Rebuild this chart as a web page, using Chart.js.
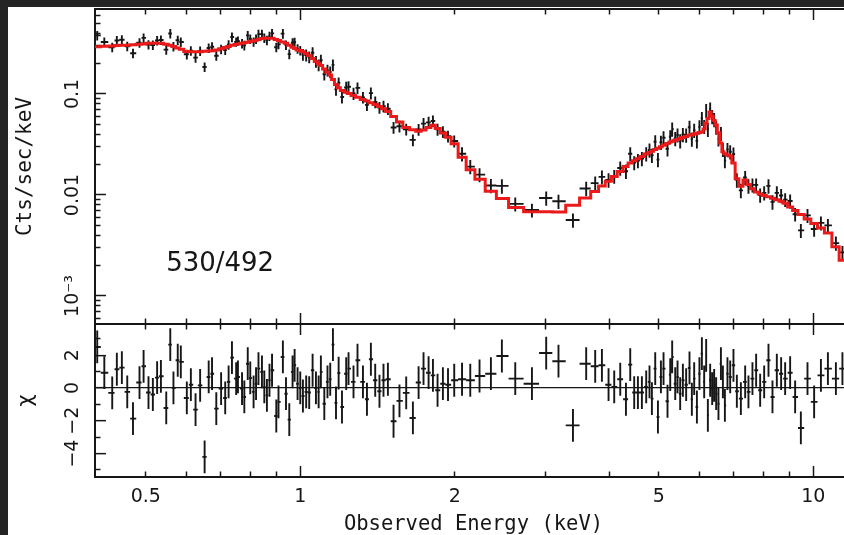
<!DOCTYPE html>
<html><head><meta charset="utf-8">
<script src="https://cdn.jsdelivr.net/npm/chart.js@4.4.0/dist/chart.umd.min.js"></script>
<style>
html,body{margin:0;padding:0;width:844px;height:535px;overflow:hidden;background:#242424;}
#paper{position:absolute;left:8px;top:7px;right:0;bottom:0;background:#fff;}
canvas{position:absolute;left:0;top:0;}
</style></head><body>
<div id="paper"></div>
<canvas id="topc" width="852" height="535" style="width:852px;height:535px"></canvas>
<canvas id="botc" width="852" height="535" style="width:852px;height:535px"></canvas>
<script>
// ---- data ----
const energy = [0.402,0.415,0.430,0.439,0.449,0.460,0.472,0.486,0.495,0.506,
0.516,0.526,0.535,0.548,0.558,0.566,0.577,0.585,0.601,0.612,
0.625,0.638,0.651,0.663,0.673,0.686,0.701,0.714,0.725,0.736,
0.750,0.756,0.770,0.778,0.790,0.799,0.811,0.820,0.829,0.842,
0.851,0.861,0.871,0.881,0.898,0.907,0.925,0.938,0.952,0.966,
0.975,0.988,1.000,1.012,1.027,1.041,1.057,1.073,1.086,1.097,
1.114,1.130,1.144,1.158,1.174,1.188,1.206,1.229,1.242,1.270,
1.293,1.325,1.349,1.373,1.400,1.427,1.453,1.482,1.520,1.561,
1.609,1.658,1.701,1.739,1.779,1.814,1.852,1.897,1.941,1.996,
2.067,2.145,2.236,2.353,2.472,2.625,2.829,3.016,3.187,3.401,
3.609,3.758,3.873,3.990,4.093,4.205,4.314,4.398,4.477,4.552,
4.634,4.725,4.795,4.847,4.920,4.980,5.047,5.107,5.199,5.263,
5.309,5.382,5.438,5.503,5.570,5.653,5.738,5.799,5.860,5.932,
6.000,6.066,6.129,6.184,6.231,6.296,6.353,6.410,6.468,6.535,
6.607,6.666,6.726,6.804,6.888,6.990,7.097,7.226,7.367,7.477,
7.612,7.739,7.880,8.023,8.180,8.328,8.492,8.658,8.815,9.015,
9.219,9.459,9.745,10.04,10.35,10.68,11.07,11.40];

const rate = [0.380,0.327,0.290,0.339,0.344,0.297,0.253,0.322,0.359,0.308,
0.305,0.339,0.342,0.275,0.397,0.295,0.340,0.327,0.247,0.268,
0.229,0.267,0.185,0.285,0.293,0.239,0.278,0.272,0.307,0.366,
0.328,0.334,0.316,0.303,0.380,0.350,0.328,0.350,0.391,0.391,
0.359,0.340,0.374,0.398,0.290,0.310,0.396,0.306,0.248,0.321,
0.325,0.280,0.270,0.246,0.243,0.233,0.256,0.210,0.194,0.216,
0.157,0.172,0.165,0.194,0.111,0.129,0.0934,0.116,0.118,0.101,
0.115,0.0925,0.0780,0.102,0.0833,0.0735,0.0757,0.0715,0.0465,0.0480,
0.0448,0.0351,0.0445,0.0509,0.0524,0.0540,0.0446,0.0423,0.0381,0.0342,
0.0256,0.0191,0.0159,0.0124,0.0123,0.00816,0.00710,0.00934,0.00866,0.00566,
0.0116,0.0131,0.0151,0.0141,0.0153,0.0185,0.0172,0.0256,0.0209,0.0219,
0.0230,0.0256,0.0279,0.0247,0.0336,0.0224,0.0332,0.0369,0.0287,0.0378,
0.0450,0.0362,0.0393,0.0344,0.0397,0.0392,0.0468,0.0357,0.0437,0.0344,
0.0472,0.0573,0.0477,0.0688,0.0446,0.0712,0.0597,0.0558,0.0469,0.0359,
0.0407,0.0283,0.0219,0.0283,0.0268,0.0254,0.0141,0.0111,0.0149,0.0123,
0.0126,0.0126,0.0100,0.0105,0.0123,0.00855,0.0105,0.00987,0.00899,0.00872,
0.00645,0.00446,0.00628,0.00460,0.00529,0.00500,0.00334,0.00270];

const rateErr = [0.041,0.035,0.031,0.037,0.037,0.032,0.027,0.035,0.039,0.033,
0.033,0.037,0.037,0.030,0.043,0.032,0.037,0.035,0.027,0.029,
0.025,0.029,0.020,0.031,0.032,0.026,0.030,0.029,0.033,0.040,
0.035,0.036,0.034,0.033,0.041,0.038,0.035,0.038,0.042,0.042,
0.039,0.037,0.040,0.043,0.031,0.033,0.043,0.033,0.027,0.035,
0.035,0.030,0.029,0.033,0.033,0.031,0.034,0.028,0.026,0.029,
0.021,0.023,0.022,0.026,0.015,0.017,0.013,0.016,0.016,0.014,
0.015,0.012,0.010,0.014,0.011,0.0098,0.010,0.0096,0.0062,0.0064,
0.0060,0.0047,0.0060,0.0068,0.0070,0.0072,0.0060,0.0057,0.0051,0.0046,
0.0041,0.0031,0.0025,0.0020,0.0020,0.0013,0.0011,0.0015,0.0014,0.00091,
0.0019,0.0021,0.0024,0.0023,0.0024,0.0030,0.0028,0.0041,0.0033,0.0035,
0.0037,0.0041,0.0045,0.0040,0.0054,0.0036,0.0053,0.0059,0.0046,0.0060,
0.0072,0.0058,0.0063,0.0055,0.0064,0.0063,0.0075,0.0057,0.0070,0.0055,
0.0076,0.0092,0.0076,0.011,0.0071,0.011,0.0096,0.0089,0.0075,0.0057,
0.0065,0.0045,0.0035,0.0045,0.0043,0.0041,0.0023,0.0018,0.0024,0.0020,
0.0020,0.0020,0.0016,0.0017,0.0020,0.0014,0.0017,0.0016,0.0014,0.0014,
0.0010,0.00071,0.0010,0.00074,0.00085,0.00080,0.00053,0.00043];

const model = [0.294,0.297,0.299,0.302,0.303,0.304,0.307,0.311,0.313,0.317,
0.318,0.318,0.318,0.311,0.303,0.295,0.286,0.278,0.263,0.262,
0.262,0.262,0.265,0.267,0.268,0.272,0.280,0.289,0.295,0.303,
0.309,0.312,0.318,0.321,0.326,0.330,0.336,0.341,0.346,0.354,
0.356,0.356,0.356,0.356,0.346,0.339,0.327,0.317,0.303,0.290,
0.282,0.273,0.270,0.262,0.251,0.241,0.224,0.210,0.200,0.191,
0.177,0.164,0.154,0.139,0.124,0.115,0.108,0.104,0.101,0.0964,
0.0930,0.0884,0.0851,0.0818,0.0785,0.0753,0.0714,0.0669,0.0600,0.0529,
0.0466,0.0442,0.0427,0.0439,0.0467,0.0491,0.0454,0.0410,0.0372,0.0322,
0.0237,0.0178,0.0143,0.0109,0.00921,0.00750,0.00683,0.00682,0.00680,0.00792,
0.00934,0.0108,0.0123,0.0137,0.0152,0.0171,0.0191,0.0207,0.0218,0.0228,
0.0240,0.0254,0.0264,0.0271,0.0282,0.0291,0.0301,0.0310,0.0324,0.0335,
0.0340,0.0348,0.0355,0.0363,0.0370,0.0380,0.0391,0.0395,0.0402,0.0408,
0.0415,0.0421,0.0451,0.0513,0.0572,0.0664,0.0601,0.0545,0.0494,0.0414,
0.0327,0.0268,0.0256,0.0249,0.0243,0.0207,0.0145,0.0122,0.0141,0.0127,
0.0115,0.0107,0.0102,0.00991,0.00958,0.00928,0.00897,0.00866,0.00826,0.00761,
0.00701,0.00641,0.00577,0.00521,0.00472,0.00420,0.00307,0.00226];

const chi = [2.5,0.93,-0.3,1.14,1.24,-0.24,-1.87,0.33,1.32,-0.28,
-0.4,0.63,0.71,-1.22,2.64,0,1.69,1.59,-0.61,0.2,
-1.32,0.16,-4.2,0.67,0.87,-1.26,-0.04,-0.61,0.37,1.85,
0.57,0.67,-0.04,-0.55,1.48,0.61,-0.24,0.26,1.18,0.98,
0.06,-0.45,0.47,1.08,-1.71,-0.85,1.89,-0.35,-1.93,0.98,
1.38,0.26,0,-0.49,-0.24,-0.28,1.08,0,-0.24,0.98,
-0.96,0.37,0.53,2.64,-0.91,0.91,-1.16,0.87,1.18,0.37,
1.69,0.37,-0.69,1.75,0.47,-0.2,0.47,0.53,-2.03,-0.79,
-0.3,-1.83,0.33,1.18,0.93,0.77,-0.14,0.26,0.2,0.47,
0.53,0.47,0.73,0.87,1.95,0.57,0.26,2.13,1.63,-2.28,
1.48,1.32,1.38,0.2,0.06,0.53,-0.69,1.42,-0.28,-0.28,
-0.28,0.06,0.37,-0.65,1.18,-1.77,0.67,1.18,-0.81,0.81,
1.89,0.26,0.67,-0.35,0.47,0.2,1.22,-0.69,0.57,-1.16,
0.87,2.09,0.37,1.99,-1.67,0.47,-0.04,0.16,-0.35,-0.96,
1.48,0.37,-1.06,0.87,0.67,1.38,-0.2,-0.65,0.37,-0.24,
0.57,1.08,-0.14,0.37,1.69,-0.55,1.08,0.87,0.57,0.93,
-0.55,-2.44,0.57,-0.85,0.77,1.18,0.57,1.18];
const chiErr = 1;

// axis ranges and ticks
const xMin = 0.398, xMax = 11.9;
const yMin = 5.28e-4, yMax = 0.694;
const chiMin = -5.43, chiMax = 3.9;
const xLabelTicks = [0.5, 1, 2, 5, 10];
const xMajorTicks = [1, 10];
const xMinorTicks = [0.5, 0.6, 0.7, 0.8, 0.9, 2, 3, 4, 5, 6, 7, 8, 9];
const yLabelTicks = [0.001, 0.01, 0.1];
const yLabelText = ['10\u207B\u00B3', '0.01', '0.1'];
const yMinorTicks = [6e-4, 7e-4, 8e-4, 9e-4,
  2e-3, 3e-3, 4e-3, 5e-3, 6e-3, 7e-3, 8e-3, 9e-3,
  0.02, 0.03, 0.04, 0.05, 0.06, 0.07, 0.08, 0.09,
  0.2, 0.3, 0.4, 0.5, 0.6];
const chiLabelTicks = [-4, -2, 0, 2];
const chiMinorTicks = [-5, -3, -1, 1, 3];
const fitLabel = '530/492';
const fitLabelAt = {x: 0.698, y: 0.00207};
const xTitle = 'Observed Energy (keV)';
const yTitle = 'Cts/sec/keV';
const chiTitle = '\u03C7';

// ---- styling ----
const INK = '#161616';
const RED = '#ea1a1a';
const TICKFONT = {family: 'DejaVu Sans', size: 19};

// bin edges (contiguous bins, geometric midpoints)
const N = energy.length;
const edges = new Array(N + 1);
for (let i = 1; i < N; i++) edges[i] = Math.sqrt(energy[i - 1] * energy[i]);
edges[0] = energy[0] * energy[0] / edges[1];
edges[N] = energy[N - 1] * energy[N - 1] / edges[N - 1];

function crosses(vals, lo, hi) {
  const pts = [];
  for (let i = 0; i < N; i++) {
    pts.push({x: edges[i], y: vals[i]}, {x: edges[i + 1], y: vals[i]}, {x: energy[i], y: null},
             {x: energy[i], y: lo[i]}, {x: energy[i], y: hi[i]}, {x: energy[i], y: null});
  }
  return pts;
}
const topCross = crosses(rate, rate.map((v, i) => v - rateErr[i]), rate.map((v, i) => v + rateErr[i]));
const botCross = crosses(chi, chi.map(v => v - chiErr), chi.map(v => v + chiErr));
const modelStep = model.map((v, i) => ({x: edges[i], y: v}));
modelStep.push({x: edges[N], y: model[N - 1]});

function measureWidest(labels, font) {
  const c = document.createElement('canvas').getContext('2d');
  c.font = font;
  return Math.max(...labels.map(t => c.measureText(t).width));
}
const labelCenterX = 73.5;
const majLen = 11, minLen = 5.5;
const padTopY = 95 + majLen - labelCenterX - measureWidest(yLabelText, '19px "DejaVu Sans"') / 2;
const chiText = v => (v < 0 ? '\u2212' + Math.abs(v) : String(v));
const padChiY = 95 + majLen - labelCenterX - measureWidest(chiLabelTicks.map(chiText), '19px "DejaVu Sans"') / 2;

function noPad(s) { s.paddingTop = 0; s.paddingBottom = 0; s.paddingLeft = 0; s.paddingRight = 0; }
function helper(type, pos, min, max, list, len, weight) {
  const horiz = pos === 'top' || pos === 'bottom';
  return {
    type, position: pos, min, max, weight,
    afterBuildTicks: s => { s.ticks = list.map(v => ({value: v})); },
    afterFit: s => { if (horiz) s.height = 0; else s.width = 0; noPad(s); },
    ticks: {display: false},
    grid: {display: true, drawOnChartArea: false, drawTicks: true, tickLength: -len, tickColor: INK, tickWidth: 1.5},
    border: {display: true, color: INK, width: 2}
  };
}
const commonOpts = {
  responsive: false, animation: false, maintainAspectRatio: false,
  events: [],
  plugins: {legend: {display: false}, tooltip: {enabled: false}}
};

// ---- top panel ----
new Chart(document.getElementById('topc'), {
  type: 'line',
  data: {datasets: [
    {data: modelStep, stepped: true, borderColor: RED, borderWidth: 3, pointRadius: 0, fill: false, order: 0},
    {data: topCross, borderColor: INK, borderWidth: 1.9, pointRadius: 0, spanGaps: false, fill: false, order: 1}
  ]},
  options: Object.assign({}, commonOpts, {
    layout: {padding: {left: 0, top: 9, right: 0, bottom: 535 - 324}},
    scales: {
      x: helper('logarithmic', 'bottom', xMin, xMax, xMinorTicks, minLen, 0),
      xb: helper('logarithmic', 'bottom', xMin, xMax, xMajorTicks, majLen, 1),
      xt: helper('logarithmic', 'top', xMin, xMax, xMinorTicks, minLen, 0),
      xtb: helper('logarithmic', 'top', xMin, xMax, xMajorTicks, majLen, 1),
      y: {
        type: 'logarithmic', position: 'left', min: yMin, max: yMax, weight: 10,
        afterBuildTicks: s => { s.ticks = yLabelTicks.map(v => ({value: v})); },
        afterFit: s => { s.width = 95; noPad(s); },
        ticks: {display: true, autoSkip: false, minRotation: 90, maxRotation: 90, crossAlign: 'center',
                padding: padTopY, color: INK, font: TICKFONT, callback: (v, i) => yLabelText[i]},
        grid: {drawOnChartArea: false, tickLength: -majLen, tickColor: INK, tickWidth: 1.5},
        border: {display: true, color: INK, width: 2},
        title: {display: true, text: yTitle, color: INK,
                font: {family: 'DejaVu Sans Mono', size: 21, lineHeight: 1}, padding: {top: 15.5, bottom: 0}}
      },
      ym: helper('logarithmic', 'left', yMin, yMax, yMinorTicks, minLen, 0)
    }
  }),
  plugins: [{
    id: 'fitText',
    afterDatasetsDraw(chart) {
      const {ctx, scales} = chart;
      ctx.save();
      ctx.font = '26px "DejaVu Sans"';
      ctx.fillStyle = INK;
      ctx.textAlign = 'center';
      ctx.textBaseline = 'middle';
      ctx.fillText(fitLabel, scales.x.getPixelForValue(fitLabelAt.x), scales.y.getPixelForValue(fitLabelAt.y));
      ctx.restore();
    }
  }]
});

// ---- residual panel ----
new Chart(document.getElementById('botc'), {
  type: 'line',
  data: {datasets: [
    {data: botCross, borderColor: INK, borderWidth: 1.9, pointRadius: 0, spanGaps: false, fill: false}
  ]},
  options: Object.assign({}, commonOpts, {
    layout: {padding: {left: 0, top: 324, right: 0, bottom: 0}},
    scales: {
      x: helper('logarithmic', 'bottom', xMin, xMax, xMinorTicks, minLen, 0),
      xb: helper('logarithmic', 'bottom', xMin, xMax, xMajorTicks, majLen, 1),
      xl: {
        type: 'logarithmic', position: 'bottom', min: xMin, max: xMax, weight: 10,
        afterBuildTicks: s => { s.ticks = xLabelTicks.map(v => ({value: v})); },
        afterFit: s => { s.height = 58; noPad(s); },
        ticks: {display: true, autoSkip: false, maxRotation: 0, minRotation: 0, padding: 9, color: INK, font: TICKFONT,
                callback: v => String(v)},
        grid: {display: true, drawOnChartArea: false, drawTicks: false},
        border: {display: false},
        title: {display: true, text: xTitle, color: INK,
                font: {family: 'DejaVu Sans Mono', size: 20.5, lineHeight: 1}, padding: {top: 0, bottom: 0}}
      },
      xt: helper('logarithmic', 'top', xMin, xMax, xMinorTicks, minLen, 0),
      xtb: helper('logarithmic', 'top', xMin, xMax, xMajorTicks, majLen, 1),
      y: {
        type: 'linear', position: 'left', min: chiMin, max: chiMax, weight: 10,
        afterBuildTicks: s => { s.ticks = chiLabelTicks.map(v => ({value: v})); },
        afterFit: s => { s.width = 95; noPad(s); },
        ticks: {display: true, autoSkip: false, minRotation: 90, maxRotation: 90, crossAlign: 'center',
                padding: padChiY, color: INK, font: TICKFONT, callback: v => chiText(v)},
        grid: {drawOnChartArea: true, color: c => (c.tick && c.tick.value === 0) ? INK : 'rgba(0,0,0,0)',
               lineWidth: 1.3, tickLength: -majLen, tickColor: INK, tickWidth: 1.5},
        border: {display: true, color: INK, width: 2},
        title: {display: true, text: chiTitle, color: INK,
                font: {family: 'DejaVu Sans', size: 21, lineHeight: 1}, padding: {top: 16, bottom: 0}}
      },
      ym: helper('linear', 'left', chiMin, chiMax, chiMinorTicks, minLen, 0)
    }
  })
});
</script>
</body></html>
